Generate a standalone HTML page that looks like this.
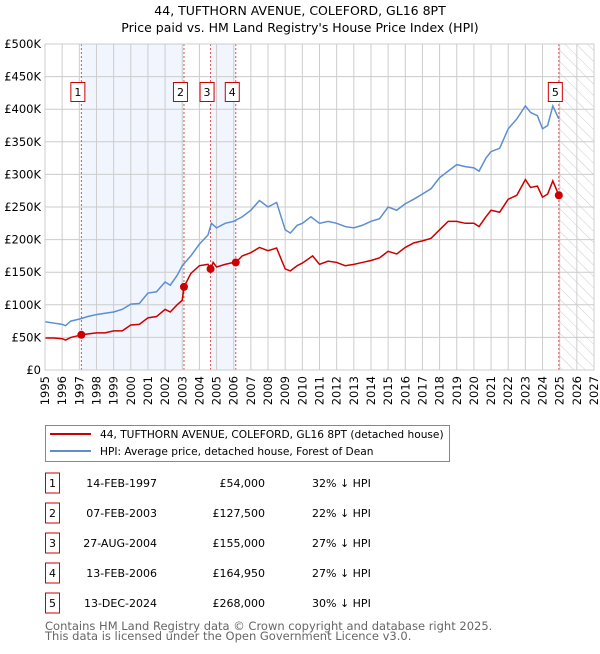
<!DOCTYPE html>
<html><head><meta charset="utf-8"><style>
body{margin:0;background:#fff;font-family:"DejaVu Sans","Liberation Sans",sans-serif;}
svg text{font-family:"DejaVu Sans","Liberation Sans",sans-serif;}
</style></head><body>
<svg id="chart" width="600" height="650" viewBox="0 0 600 650" xmlns="http://www.w3.org/2000/svg">
<defs><pattern id="hatch" width="8" height="8" patternUnits="userSpaceOnUse" patternTransform="rotate(-45)"><line x1="0" y1="0" x2="0" y2="8" stroke="#ccc" stroke-width="1"/></pattern></defs>
<text x="300" y="15" text-anchor="middle" font-size="12.5">44, TUFTHORN AVENUE, COLEFORD, GL16 8PT</text>
<text x="300" y="32" text-anchor="middle" font-size="12.5">Price paid vs. HM Land Registry's House Price Index (HPI)</text>
<g id="plot"></g>
<g>
<rect x="45.5" y="425.5" width="404" height="36" fill="#fff" stroke="#888"/>
<line x1="50" y1="434" x2="91" y2="434" stroke="#cc0000" stroke-width="2"/>
<text x="100" y="438" font-size="10.6">44, TUFTHORN AVENUE, COLEFORD, GL16 8PT (detached house)</text>
<line x1="50" y1="451" x2="91" y2="451" stroke="#5b8fd0" stroke-width="2"/>
<text x="100" y="455" font-size="10.6">HPI: Average price, detached house, Forest of Dean</text>
</g>
<g id="table"></g>
<text x="45" y="630" font-size="11.5" fill="#666">Contains HM Land Registry data © Crown copyright and database right 2025.</text>
<text x="45" y="640" font-size="11.5" fill="#666">This data is licensed under the Open Government Licence v3.0.</text>
</svg>
<script>
const hpiT=[1995,1995.5,1996,1996.2,1996.5,1997,1997.5,1998,1998.5,1999,1999.5,2000,2000.5,2001,2001.5,2002,2002.3,2002.7,2003,2003.5,2004,2004.5,2004.7,2005,2005.5,2006,2006.5,2007,2007.5,2008,2008.5,2009,2009.3,2009.7,2010,2010.5,2011,2011.5,2012,2012.5,2013,2013.5,2014,2014.5,2015,2015.5,2016,2016.5,2017,2017.5,2018,2018.5,2019,2019.5,2020,2020.3,2020.7,2021,2021.5,2022,2022.5,2023,2023.3,2023.7,2024,2024.3,2024.6,2024.95];
const hpiV=[74,72,70,68,75,78,82,85,87,89,93,101,102,118,120,135,130,145,160,175,193,207,225,218,225,228,235,245,260,250,257,215,210,222,225,235,225,228,225,220,218,222,228,232,250,245,255,262,270,278,295,305,315,312,310,305,325,335,340,370,385,405,395,390,370,375,405,385];
const ppT=[1995,1995.5,1996,1996.2,1996.5,1997,1997.12,1998,1998.5,1999,1999.5,2000,2000.5,2001,2001.5,2002,2002.3,2002.7,2003,2003.1,2003.5,2004,2004.5,2004.65,2004.8,2005,2005.5,2006,2006.12,2006.5,2007,2007.5,2008,2008.5,2009,2009.3,2009.7,2010,2010.6,2011,2011.5,2012,2012.5,2013,2013.5,2014,2014.5,2015,2015.5,2016,2016.5,2017,2017.5,2018,2018.5,2019,2019.5,2020,2020.3,2020.7,2021,2021.5,2022,2022.5,2023,2023.3,2023.7,2024,2024.3,2024.6,2024.95];
const ppV=[49,49,48,46,50,53,54,57,57,60,60,69,70,80,82,93,89,100,107,127.5,148,160,162,155,165,158,162,165,165,175,180,188,183,187,155,152,160,164,175,162,167,165,160,162,165,168,172,182,178,188,195,198,202,215,228,228,225,225,220,235,245,242,262,268,292,280,282,265,270,290,268];
const saleT=[1997.12,2003.1,2004.65,2006.12,2024.95];
const saleV=[54,127.5,155,164.95,268];
const saleDates=["14-FEB-1997","07-FEB-2003","27-AUG-2004","13-FEB-2006","13-DEC-2024"];
const salePrices=["£54,000","£127,500","£155,000","£164,950","£268,000"];
const saleDiff=["32% ↓ HPI","22% ↓ HPI","27% ↓ HPI","27% ↓ HPI","30% ↓ HPI"];
const yTicks=[0,50,100,150,200,250,300,350,400,450,500];
const yLabels=["£0","£50K","£100K","£150K","£200K","£250K","£300K","£350K","£400K","£450K","£500K"];
const years=[1995,1996,1997,1998,1999,2000,2001,2002,2003,2004,2005,2006,2007,2008,2009,2010,2011,2012,2013,2014,2015,2016,2017,2018,2019,2020,2021,2022,2023,2024,2025,2026,2027];

const X0=45,X1=594,Y0=370,Y1=44;
const x=t=>X0+(t-1995)/(2027-1995)*(X1-X0);
const y=v=>Y0-v/500*(Y0-Y1);
const NS="http://www.w3.org/2000/svg";
const plot=document.getElementById('plot');
function mk(tag,attrs,parent){const e=document.createElementNS(NS,tag);for(const k in attrs)e.setAttribute(k,attrs[k]);(parent||plot).appendChild(e);return e;}

let r;
r=mk('rect',{x:x(saleT[0]),y:Y1,width:x(saleT[1])-x(saleT[0]),height:Y0-Y1,fill:'#eef3fc',opacity:0.8});


r=mk('rect',{x:x(saleT[2]),y:Y1,width:x(saleT[3])-x(saleT[2]),height:Y0-Y1,fill:'#eef3fc',opacity:0.8});


r=mk('rect',{x:x(saleT[4]),y:Y1,width:X1-x(saleT[4]),height:Y0-Y1,fill:'url(#hatch)'});



years.forEach(yr=>{
  const l=mk('line',{x1:x(yr),x2:x(yr),y1:Y1,y2:Y0,stroke:'#ccc','stroke-width':1});
  
  
  const t=mk('text',{x:0,y:0,'font-size':11.5,'text-anchor':'end',transform:`translate(${x(yr)+4},${Y0+6}) rotate(-90)`});
  t.textContent=yr;
  
  
});
yTicks.forEach((v,i)=>{
  const l=mk('line',{x1:X0,x2:X1,y1:y(v),y2:y(v),stroke:'#ccc','stroke-width':1});
  
  
  const t=mk('text',{x:X0-4,y:y(v)+4,'font-size':11.5,'text-anchor':'end'});
  t.textContent=yLabels[i];
  
  
});
saleT.forEach((t,i)=>{
  const l=mk('line',{x1:x(t),x2:x(t),y1:Y1,y2:Y0,stroke:'#e05050','stroke-width':1,'stroke-dasharray':'2,2'});
  
  
});
const hp=mk('polyline',{points:hpiT.map((t,i)=>x(t)+','+y(hpiV[i])).join(' '),fill:'none',stroke:'#5b8fd0','stroke-width':1.5});


const pp=mk('polyline',{points:ppT.map((t,i)=>x(t)+','+y(ppV[i])).join(' '),fill:'none',stroke:'#cc0000','stroke-width':1.5});


saleT.forEach((t,i)=>{
  const c=mk('circle',{cx:x(t),cy:y(saleV[i]),r:4,fill:'#cc0000'});
  
  
  const g=mk('g',{});
  
  
  mk('rect',{x:x(t)-10.5,y:82.5,width:14,height:19,fill:'#fff',stroke:'#cc0000'},g);
  const tx=mk('text',{x:x(t)-3.5,y:96,'font-size':11,'text-anchor':'middle'},g);
  tx.textContent=i+1;
});
const ax=mk('rect',{x:X0,y:Y1,width:X1-X0,height:Y0-Y1,fill:'none',stroke:'#ccc'});



const tb=document.getElementById('table');
saleT.forEach((t,i)=>{
  const cy=483+i*30;
  const g=mk('g',{},tb);
  
  
  mk('rect',{x:45.5,y:cy-10,width:14,height:20,fill:'#fff',stroke:'#cc0000'},g);
  let e=mk('text',{x:52.5,y:cy+4,'font-size':11,'text-anchor':'middle'},g);e.textContent=i+1;
  e=mk('text',{x:157,y:cy+4,'font-size':11,'text-anchor':'end'},g);e.textContent=saleDates[i];
  e=mk('text',{x:265,y:cy+4,'font-size':11,'text-anchor':'end'},g);e.textContent=salePrices[i];
  e=mk('text',{x:312,y:cy+4,'font-size':11},g);e.textContent=saleDiff[i];
});
</script>
</body></html>
